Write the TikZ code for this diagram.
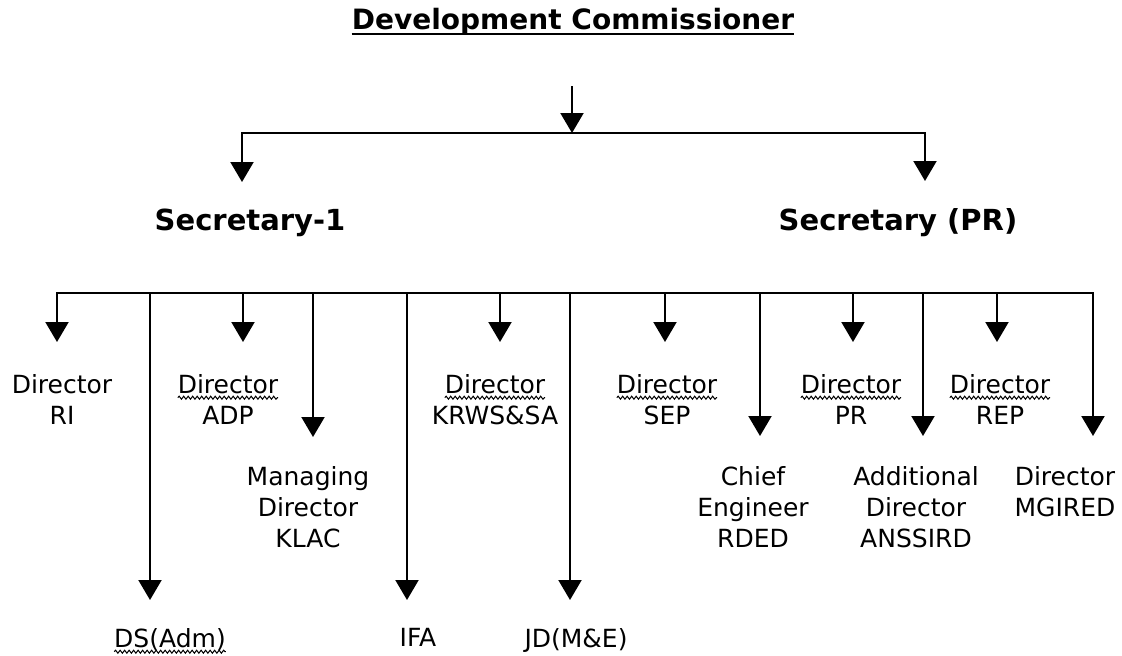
\documentclass[tikz,border=0pt]{standalone}
\usepackage{fontspec}
\setmainfont{DejaVu Sans}
\usetikzlibrary{arrows.meta,calc,decorations.pathmorphing}

% word with a wavy underline
\newcommand\wavyword[1]{\tikz[x=1pt,y=1pt,baseline=(w.base)]{%
  \node[inner sep=0pt,outer sep=0pt] (w) {#1};
  \draw[line width=1pt,decorate,decoration={snake,segment length=4.5pt,amplitude=1.5pt}]
    ($(w.base west)+(0,-4.5)$) -- ($(w.base east)+(0,-4.5)$);}}

\begin{document}
\begin{tikzpicture}[x=1pt,y=-1pt,
  conn/.style={line width=2.1pt, line cap=rect},
  arr/.style={conn, -{Triangle[width=23pt,length=20pt]}},
  lbl/.style={font=\fontsize{25}{31}\selectfont, align=center, inner sep=0pt, anchor=north},
  sec/.style={font=\fontsize{29}{34}\selectfont\bfseries, inner sep=0pt, anchor=base},
  ttl/.style={font=\fontsize{28}{34}\selectfont\bfseries, inner sep=0pt, anchor=base}]
\useasboundingbox (0,0) rectangle (1122,656);

% title with a heavy underline
\node[ttl] (dc) at (573,29) {Development Commissioner};
\draw[line width=2pt] ($(dc.base west)+(0,4.5)$) -- ($(dc.base east)+(0,4.5)$);

% first level
\coordinate (top) at (572,87);
\coordinate (busA) at (572,133);
\coordinate (aL) at (242,133);
\coordinate (aR) at (925,133);
\coordinate (tS1) at (242,182);
\coordinate (tS2) at (925,181);
\node[sec] (s1) at (250,230) {Secretary-1};
\node[sec] (s2) at (898,230) {Secretary (PR)};

\draw[arr] (top) -- (busA);
\draw[conn] (aL) -- (aR);
\draw[arr] (aL) -- (tS1);
\draw[arr] (aR) -- (tS2);

% second level bus
\coordinate (bL) at (57,293);
\coordinate (bR) at (1093,293);
\draw[conn] (bL) -- (bR);

\coordinate (tRI)   at (57,342);
\coordinate (tDS)   at (150,600);
\coordinate (tADP)  at (243,342);
\coordinate (tKLAC) at (313,437);
\coordinate (tIFA)  at (407,600);
\coordinate (tKRWS) at (500,342);
\coordinate (tJD)   at (570,600);
\coordinate (tSEP)  at (665,342);
\coordinate (tRDED) at (760,436);
\coordinate (tPR)   at (853,342);
\coordinate (tANS)  at (923,436);
\coordinate (tREP)  at (997,342);
\coordinate (tMGI)  at (1093,436);

\foreach \t in {tRI,tDS,tADP,tKLAC,tIFA,tKRWS,tJD,tSEP,tRDED,tPR,tANS,tREP,tMGI}
  \draw[arr] (bL -| \t) -- (\t);

% offices
\node[lbl] (ri)   at (62,374)   {Director\\RI};
\node[lbl] (adp)  at (228,374)  {\wavyword{Director}\\ADP};
\node[lbl] (krws) at (495,374)  {\wavyword{Director}\\KRWS\&SA};
\node[lbl] (sep)  at (667,374)  {\wavyword{Director}\\SEP};
\node[lbl] (pr)   at (851,374)  {\wavyword{Director}\\PR};
\node[lbl] (rep)  at (1000,374) {\wavyword{Director}\\REP};
\node[lbl] (klac) at (308,466)  {Managing\\Director\\KLAC};
\node[lbl] (rded) at (753,466)  {Chief\\Engineer\\RDED};
\node[lbl] (ans)  at (916,466)  {Additional\\Director\\ANSSIRD};
\node[lbl] (mgi)  at (1065,466) {Director\\MGIRED};
\node[lbl] (ds)   at (170,628)  {\wavyword{DS(Adm)}};
\node[lbl] (ifa)  at (418,628)  {IFA};
\node[lbl] (jd)   at (576,628)  {JD(M\&E)};
\end{tikzpicture}
\end{document}
